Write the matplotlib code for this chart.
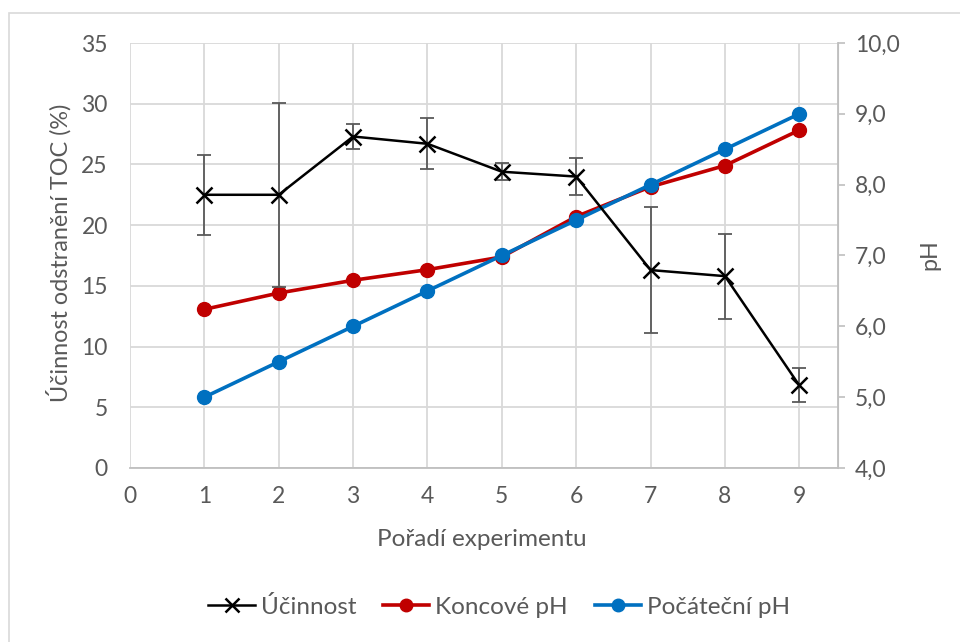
import matplotlib.pyplot as plt
from matplotlib.patches import Rectangle

plt.rcParams['font.family'] = ['Lato', 'DejaVu Sans']

# experiment data
poradi = [1, 2, 3, 4, 5, 6, 7, 8, 9]
ucinnost = [22.5, 22.5, 27.3, 26.7, 24.4, 24.0, 16.3, 15.8, 6.8]
ucinnost_err = [3.3, 7.6, 1.0, 2.1, 0.7, 1.5, 5.2, 3.5, 1.4]
koncove_ph = [6.24, 6.47, 6.65, 6.80, 6.98, 7.55, 7.97, 8.27, 8.77]
pocatecni_ph = [5.0, 5.5, 6.0, 6.5, 7.0, 7.5, 8.0, 8.5, 9.0]

gray = '#595959'
grid = '#D9D9D9'
red = '#C00000'
blue = '#0070C0'
W, H = 960, 642

fig = plt.figure(figsize=(9.6, 6.42), dpi=100)
fig.patches.append(Rectangle((9 / W, -0.1), 1.2, 1 - 13 / H + 0.1, transform=fig.transFigure,
                             fill=False, edgecolor=grid, lw=1.2))

ax = fig.add_axes([130 / W, 1 - 468 / H, (838 - 130) / W, (468 - 43) / H])
ax.set_xlim(0, 9.52)
ax.set_ylim(0, 35)
ax.set_xticks(range(0, 10))
ax.set_yticks(range(0, 36, 5))
ax.grid(True, color=grid, lw=1.3)
ax.set_axisbelow(True)
for s in ['top', 'left']:
    ax.spines[s].set_visible(False)
ax.spines['right'].set_color('#BFBFBF')
ax.spines['bottom'].set_color('#BFBFBF')
ax.spines['bottom'].set_linewidth(1.3)
ax.tick_params(axis='both', length=0, labelsize=16.5, labelcolor=gray)
ax.tick_params(axis='x', pad=13)
ax.tick_params(axis='y', pad=16)

fig.text(482 / W, 1 - 540 / H, 'Pořadí experimentu', fontsize=17.5, color=gray,
         ha='center', va='center')
fig.text(59 / W, 1 - 253 / H, 'Účinnost odstranění TOC (%)', fontsize=16.8, color=gray,
         ha='center', va='center', rotation=90)
fig.text(930 / W, 1 - 255 / H, 'pH', fontsize=16.8, color=gray,
         ha='center', va='center', rotation=90)

# pH on the secondary axis
ax2 = ax.twinx()
ax2.set_ylim(4, 10)
ax2.set_yticks(range(4, 11))
ax2.set_yticklabels([f'{v},0' for v in range(4, 11)])
for s in ['top', 'left', 'bottom']:
    ax2.spines[s].set_visible(False)
ax2.spines['right'].set_color('#BFBFBF')
ax2.spines['right'].set_linewidth(1.3)
ax2.tick_params(axis='y', length=5, color='#BFBFBF', width=1.2, labelsize=16.5,
                labelcolor=gray, pad=7)
l_red, = ax2.plot(poradi, koncove_ph, color=red, lw=2.6, marker='o', ms=10,
                  label='Koncové pH')
l_blue, = ax2.plot(poradi, pocatecni_ph, color=blue, lw=2.6, marker='o', ms=10,
                   label='Počáteční pH')

# efficiency on top, sharing the left scale
ax3 = ax.twinx()
ax3.set_ylim(ax.get_ylim())
ax3.axis('off')
ax3.errorbar(poradi, ucinnost, yerr=ucinnost_err, fmt='none', ecolor=gray,
             elinewidth=1.3, capsize=5, capthick=1.3)
l_blk, = ax3.plot(poradi, ucinnost, color='black', lw=1.8, marker='x', ms=11,
                  mew=1.8, label='Účinnost')

fig.legend(handles=[l_blk, l_red, l_blue], loc='center', bbox_to_anchor=(0.52, 1 - 607 / H),
           ncol=3, frameon=False, fontsize=17.5, labelcolor=gray, handlelength=1.9,
           handletextpad=0.25, columnspacing=1.1, markerscale=0.9)

fig.savefig('out.png', dpi=100)
